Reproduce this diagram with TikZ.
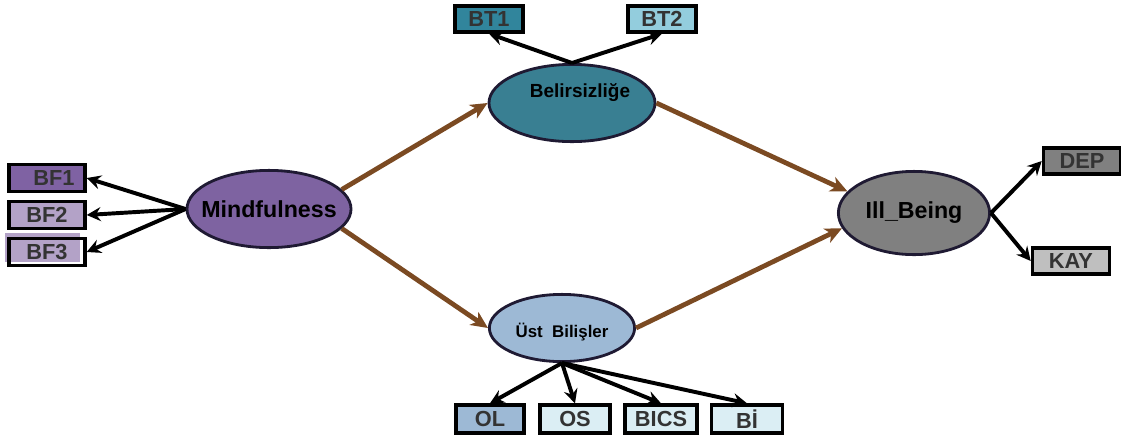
\documentclass[tikz,border=0pt]{standalone}
\usepackage{fontspec}
\setmainfont{Liberation Sans}
\usetikzlibrary{shapes.geometric,arrows.meta}
\definecolor{mfill}{HTML}{7E63A1}
\definecolor{bfa}{HTML}{7F62A3}
\definecolor{bfb}{HTML}{B3A2C7}
\definecolor{bfill}{HTML}{397F92}
\definecolor{bta}{HTML}{31859C}
\definecolor{btb}{HTML}{93CDDD}
\definecolor{ufill}{HTML}{9DB9D5}
\definecolor{ulight}{HTML}{DBEEF4}
\definecolor{ifill}{HTML}{808080}
\definecolor{kayfill}{HTML}{BFBFBF}
\definecolor{rim}{HTML}{1F1A33}
\definecolor{path}{HTML}{7B4A22}
\definecolor{boxtxt}{HTML}{333333}
\tikzset{
	lat/.style={ellipse,draw=rim,line width=2pt,inner sep=0pt},
	obs/.style={rectangle,draw=black,line width=2.4pt,inner sep=0pt,text=boxtxt,font=\bfseries\fontsize{15.5}{18}\selectfont},
	load/.style={line width=2.8pt,-{Stealth[length=10pt,width=10pt,inset=3.5pt]}},
	struct/.style={draw=path,line width=3.4pt,-{Stealth[length=12pt,width=11pt,inset=3.5pt]}}
}
\begin{document}
\begin{tikzpicture}[x=0.025cm,y=-0.025cm]
	\useasboundingbox (0,0) rectangle (1121,443);
	\fill[bfb] (5,233) rectangle (80,262);
	\node[lat,fill=mfill,minimum width=4.1cm,minimum height=1.93cm,label={[font=\bfseries\fontsize{16.5}{19}\selectfont]center:Mindfulness}] (m) at (269,209) {};
	\node[lat,fill=bfill,minimum width=4.15cm,minimum height=1.93cm] (b) at (572,103) {};
	\node[font=\bfseries\fontsize{13.5}{16}\selectfont] (bt) at (580,93) {Belirsizliğe};
	\node[lat,fill=ufill,minimum width=3.63cm,minimum height=1.68cm,label={[font=\bfseries\fontsize{12}{14}\selectfont,yshift=-3pt]center:Üst\ \ Bilişler}] (u) at (562,328) {};
	\node[lat,fill=ifill,minimum width=3.78cm,minimum height=2.08cm,label={[font=\bfseries\fontsize{16.5}{19}\selectfont]center:Ill\_Being}] (i) at (914,213) {};
	\node[obs,fill=bfa,minimum width=1.9cm,minimum height=0.68cm] (bf1) at (47,178) {\hspace{10pt}BF1};
	\node[obs,fill=bfb,minimum width=1.9cm,minimum height=0.68cm] (bf2) at (47,215) {BF2};
	\node[obs,fill=none,minimum width=1.9cm,minimum height=0.68cm] (bf3) at (47,252) {BF3};
	\node[obs,fill=bta,minimum width=1.7cm,minimum height=0.65cm] (bt1) at (489,19) {BT1};
	\node[obs,fill=btb,minimum width=1.7cm,minimum height=0.65cm] (bt2) at (662,19) {BT2};
	\node[obs,fill=ifill,minimum width=1.93cm,minimum height=0.65cm] (dep) at (1082,161) {DEP};
	\node[obs,fill=kayfill,minimum width=1.93cm,minimum height=0.65cm] (kay) at (1071,261) {KAY};
	\node[obs,fill=ufill,minimum width=1.7cm,minimum height=0.7cm] (ol) at (490,419) {OL};
	\node[obs,fill=ulight,minimum width=1.75cm,minimum height=0.7cm] (os) at (575,419) {OS};
	\node[obs,fill=ulight,minimum width=1.8cm,minimum height=0.7cm] (bics) at (661,419) {BICS};
	\node[obs,fill=ulight,minimum width=1.78cm,minimum height=0.7cm] (bi) at (747,419) {Bİ};
	 \draw[load] (m.west) -- (bf1.east);
	 \draw[load] (m.west) -- (bf2.east);
	 \draw[load] (m.west) -- (bf3.east);
	 \draw[load] (b.north) -- (bt1.south);
	 \draw[load] (b.north) -- (bt2.south);
	 \draw[load] (u.south) -- (ol.north);
	 \draw[load] (u.south) -- (os.north);
	 \draw[load] (u.south) -- (bics.north);
	 \draw[load] (u.south) -- (bi.north);
	 \draw[load] (i.east) -- (dep.west);
	 \draw[load] (i.east) -- (kay.west);
	 \draw[struct] (m.15) -- (b.west);
	 \draw[struct] (m.-15) -- (u.west);
	 \draw[struct] (b.east) -- (i.162);
	 \draw[struct] (u.east) -- (i.192);
\end{tikzpicture}
\end{document}
